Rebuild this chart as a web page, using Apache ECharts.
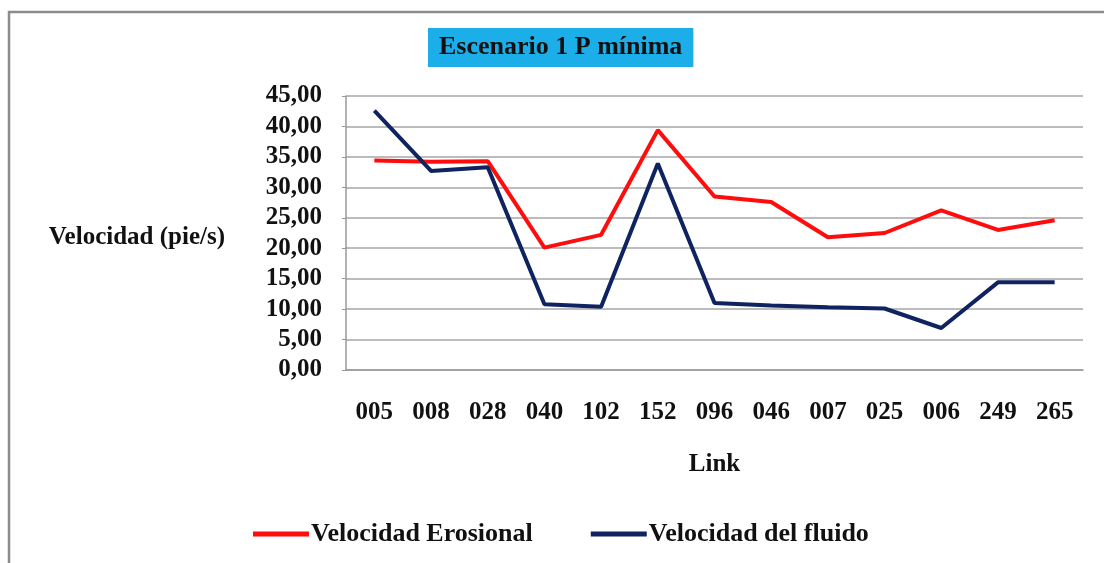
<!DOCTYPE html>
<html>
<head>
<meta charset="utf-8">
<script src="https://cdn.jsdelivr.net/npm/echarts@6/dist/echarts.min.js"></script>
<style>
  html, body { margin: 0; padding: 0; background: #fff; }
  #chart { width: 1104px; height: 563px; }
</style>
</head>
<body>
<div id="chart"></div>
<script>
// Link identifiers along the horizontal axis
const links = ['005', '008', '028', '040', '102', '152', '096', '046', '007', '025', '006', '249', '265'];
// Erosional velocity per link (ft/s)
const erosionalVelocity = [34.4, 34.2, 34.3, 20.1, 22.2, 39.4, 28.5, 27.6, 21.8, 22.5, 26.2, 23.0, 24.6];
// Fluid velocity per link (ft/s)
const fluidVelocity = [42.6, 32.7, 33.3, 10.8, 10.4, 33.9, 11.0, 10.6, 10.3, 10.1, 6.9, 14.4, 14.4];
// Value axis ticks
const yTicks = { min: 0, max: 45, interval: 5 };

const serif = '"Liberation Serif", "Times New Roman", serif';
const fmt = v => v.toFixed(2).replace('.', ',');

const chart = echarts.init(document.getElementById('chart'), null, { renderer: 'canvas' });
chart.setOption({
  backgroundColor: '#fff',
  animation: false,
  graphic: [
    {
      type: 'rect',
      shape: { x: 9, y: 12, width: 1200, height: 700 },
      style: { fill: 'none', stroke: '#8c8c8c', lineWidth: 2.5 },
      z: 0
    },
    {
      // value axis title, placed to the left of the tick labels
      type: 'text',
      x: 225,
      y: 238,
      style: {
        text: 'Velocidad (pie/s)',
        fontFamily: serif, fontWeight: 'bold', fontSize: 25, fill: '#111',
        align: 'right', verticalAlign: 'middle'
      }
    }
  ],
  title: {
    text: 'Escenario 1 P mínima',
    left: 428,
    top: 28,
    backgroundColor: '#1BAEE9',
    padding: [6, 11, 6, 11],
    textStyle: { fontFamily: serif, fontWeight: 'bold', fontSize: 26, lineHeight: 27, color: '#111' }
  },
  legend: {
    left: 248,
    top: 516,
    itemWidth: 56,
    itemHeight: 5,
    itemGap: 58,
    icon: 'rect',
    textStyle: { fontFamily: serif, fontWeight: 'bold', fontSize: 26, color: '#111', padding: [0, 0, 0, -3] },
    data: ['Velocidad Erosional', 'Velocidad del fluido']
  },
  grid: { left: 346, right: 21, top: 96, bottom: 193, containLabel: false },
  xAxis: {
    type: 'category',
    data: links,
    boundaryGap: true,
    name: 'Link',
    nameLocation: 'middle',
    nameGap: 82,
    nameTextStyle: { fontFamily: serif, fontWeight: 'bold', fontSize: 25, color: '#111' },
    axisLine: { lineStyle: { color: '#999', width: 1.5 } },
    axisTick: { show: false },
    axisLabel: { fontFamily: serif, fontWeight: 'bold', fontSize: 25, color: '#111', margin: 30 }
  },
  yAxis: {
    type: 'value',
    min: yTicks.min,
    max: yTicks.max,
    interval: yTicks.interval,
    axisLine: { show: true, lineStyle: { color: '#999', width: 1.5 } },
    axisTick: { show: true, length: 4, lineStyle: { color: '#999' } },
    splitLine: { lineStyle: { color: '#a6a6a6', width: 1.5 } },
    axisLabel: { fontFamily: serif, fontWeight: 'bold', fontSize: 25, color: '#111', margin: 24, formatter: fmt }
  },
  series: [
    {
      name: 'Velocidad Erosional',
      type: 'line',
      data: erosionalVelocity,
      symbol: 'none',
      color: '#FF0D0D',
      lineStyle: { width: 4, color: '#FF0D0D' },
      z: 3
    },
    {
      name: 'Velocidad del fluido',
      type: 'line',
      data: fluidVelocity,
      symbol: 'none',
      color: '#0F2360',
      lineStyle: { width: 4, color: '#0F2360' },
      z: 4
    }
  ]
});
</script>
</body>
</html>
